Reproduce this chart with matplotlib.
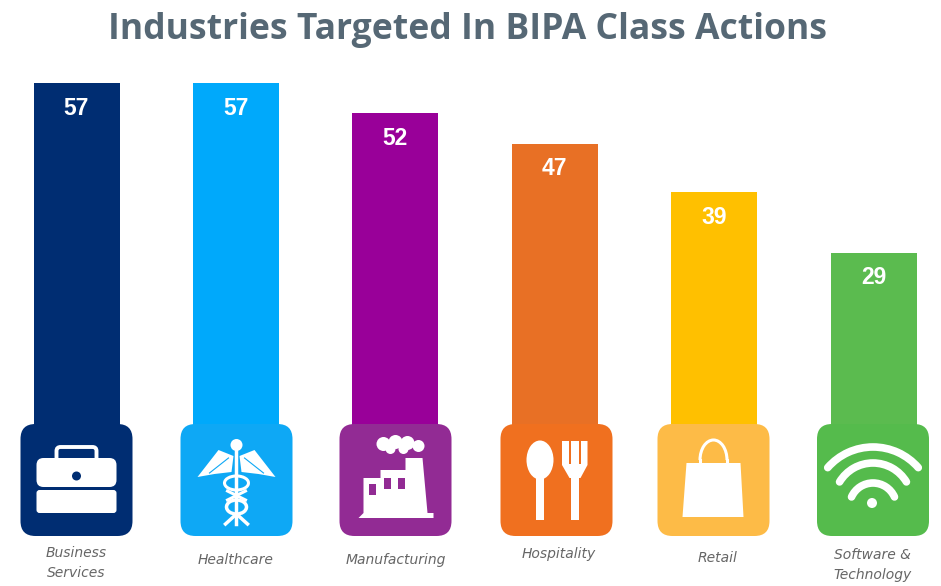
import matplotlib
matplotlib.use("Agg")
import matplotlib.pyplot as plt
from matplotlib.patches import FancyBboxPatch, Circle, Ellipse, Polygon, Rectangle, Arc

# Data
categories = ["Business\nServices", "Healthcare", "Manufacturing", "Hospitality", "Retail", "Software &\nTechnology"]
values = [57, 57, 52, 47, 39, 29]
bar_colors = ["#002d72", "#00a9fb", "#990099", "#e87025", "#ffc000", "#5bbb4f"]
badge_colors = ["#002d72", "#0ea8f5", "#922b94", "#f0701f", "#fdbb47", "#55bb4c"]
title = "Industries Targeted In BIPA Class Actions"

W, H = 941, 586
PX_PER_UNIT = 6.07
ZERO_Y = 429
X0, X_STEP = 76.5, 159.4

fig = plt.figure(figsize=(W / 100, H / 100), dpi=100)

# main axes: value scale mapped so bars land in the right place
ax = fig.add_axes([0, 0, 1, 1])
ax.set_xlim(-X0 / X_STEP, (W - X0) / X_STEP)
ax.set_ylim(-(H - ZERO_Y) / PX_PER_UNIT, ZERO_Y / PX_PER_UNIT)
ax.axis("off")
xs = list(range(len(values)))
ax.bar(xs, values, width=86 / X_STEP, color=bar_colors, linewidth=0)

for x, v in zip(xs, values):
    ax.annotate(str(v), (x, v), xytext=(0, -25), textcoords="offset pixels", ha="center", va="center",
                color="white", fontsize=16.5, fontweight="bold", family="Liberation Sans")

# overlay in pixel coords for the icons
ic = fig.add_axes([0, 0, 1, 1], facecolor="none")
ic.set_xlim(0, W)
ic.set_ylim(H, 0)
ic.axis("off")

badge_cx = [76.5, 236.5, 395.5, 556.5, 713.5, 873]
BADGE_TOP, BADGE_BOTTOM = 424, 536


def badge(cx, color):
    pad = 15
    ic.add_patch(FancyBboxPatch((cx - 56 + pad, BADGE_TOP + pad), 112 - 2 * pad, BADGE_BOTTOM - BADGE_TOP - 2 * pad,
                                boxstyle=f"round,pad={pad},rounding_size={pad}", fc=color, ec="none"))


def briefcase(cx, color):
    ic.add_patch(FancyBboxPatch((cx - 18, 449), 36, 12, boxstyle="round,pad=2,rounding_size=4", fc="none", ec="white", lw=2.8))
    ic.add_patch(FancyBboxPatch((cx - 36, 462), 72, 21, boxstyle="round,pad=4,rounding_size=7", fc="white", ec="none"))
    ic.add_patch(FancyBboxPatch((cx - 38, 492), 76, 19, boxstyle="round,pad=2,rounding_size=3", fc="white", ec="none"))
    ic.add_patch(Circle((cx, 476), 4.5, fc=color, ec="none"))


def caduceus(cx, color):
    ic.add_patch(Circle((cx, 445), 6, fc="white", ec="none"))
    ic.plot([cx, cx], [448, 524], color="white", lw=2.5)
    for s in (-1, 1):
        ic.add_patch(Polygon([(cx + s * 3, 456), (cx + s * 18, 450), (cx + s * 39, 477), (cx + s * 22, 474), (cx + s * 5, 472)],
                             fc="white", ec="none"))
        ic.plot([cx + s * 8, cx + s * 27], [458, 473], color=color, lw=0.8)
    ic.add_patch(Arc((cx, 483), 24, 14, theta1=0, theta2=360, color="white", lw=2.2))
    ic.add_patch(Ellipse((cx, 507), 20, 14, fc="none", ec="white", lw=2.5))
    ic.plot([cx - 11, cx, cx + 11], [524, 514, 524], color="white", lw=2.5)
    ic.plot([cx - 9, cx + 9], [491, 500], color="white", lw=2.2)
    ic.plot([cx + 9, cx - 9], [491, 500], color="white", lw=2.2)


def factory(cx, color):
    ic.add_patch(Polygon([(cx - 37, 518), (cx - 32, 513), (cx - 32, 478), (cx - 15, 478), (cx - 15, 470), (cx + 10, 470),
                          (cx + 10, 458), (cx + 27, 458), (cx + 32, 513), (cx + 38, 513), (cx + 38, 518)], fc="white", ec="none"))
    for dx, top in ((-26, 484), (-11, 478), (3, 478)):
        ic.add_patch(Rectangle((cx + dx, top), 7, 11, fc=color, ec="none"))
    for dx, y, r in ((-12, 444, 7), (0, 442, 7), (12, 443, 7), (23, 446, 6), (-5, 449, 5), (8, 449, 5)):
        ic.add_patch(Circle((cx + dx, y), r, fc="white", ec="none"))


def cutlery(cx, color):
    ic.add_patch(Ellipse((cx - 16.5, 460), 27, 39, fc="white", ec="none"))
    ic.add_patch(Rectangle((cx - 20.5, 476), 8, 44, fc="white", ec="none"))
    ic.add_patch(Polygon([(cx + 5.5, 441), (cx + 31, 441), (cx + 31, 465), (cx + 24, 478), (cx + 13, 478), (cx + 5.5, 465)],
                         fc="white", ec="none"))
    ic.add_patch(Rectangle((cx + 14.5, 476), 8, 44, fc="white", ec="none"))
    for dx in (12.5, 22.5):
        ic.add_patch(Rectangle((cx + dx, 441), 2, 23, fc=color, ec="none"))


def bag(cx, color):
    ic.add_patch(Polygon([(cx - 27, 463), (cx + 27, 463), (cx + 30, 517), (cx - 31, 517)], fc="white", ec="none"))
    ic.add_patch(Arc((cx, 460), 27, 40, theta1=180, theta2=360, color="white", lw=2.2))
    ic.plot([cx - 13.5, cx - 13.5], [460, 466], color="white", lw=2.2)
    ic.plot([cx + 13.5, cx + 13.5], [460, 466], color="white", lw=2.2)


def wifi(cx, color):
    for r, yc, ang in ((60, 507, 49), (39, 502, 59), (23.5, 506.5, 66)):
        ic.add_patch(Arc((cx, yc), 2 * r, 2 * r, theta1=270 - ang, theta2=270 + ang, color="white", lw=5.5, capstyle="round"))
    ic.add_patch(Circle((cx - 1, 503), 5, fc="white", ec="none"))


icons = [briefcase, caduceus, factory, cutlery, bag, wifi]
for cx, color, icon in zip(badge_cx, badge_colors, icons):
    badge(cx, color)
    icon(cx, color)

label_y = [563, 560, 560, 554, 558, 565]
label_x = [76, 236, 396, 559, 718, 873]
for lx, ly, name in zip(label_x, label_y, categories):
    ic.text(lx, ly, name, ha="center", va="center", fontsize=10, style="italic", family="DejaVu Sans",
            color="#666666", linespacing=1.5)

ic.text(468, 30, title, ha="center", va="center", fontsize=25.6, fontweight="bold", family="Open Sans", color="#566875")

fig.savefig("out.png", dpi=100)
